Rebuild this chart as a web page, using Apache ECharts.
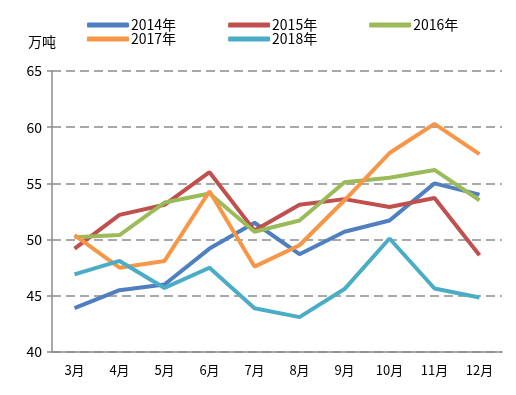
<!DOCTYPE html>
<html><head><meta charset="utf-8">
<script src="https://cdn.jsdelivr.net/npm/echarts@6/dist/echarts.min.js"></script>
<style>html,body{margin:0;padding:0;background:#fff}#c{width:516px;height:395px}</style>
</head><body><div id="c"></div>
<script>
const categories = ['3月','4月','5月','6月','7月','8月','9月','10月','11月','12月'];
const s2014 = [43.9, 45.5, 46.0, 49.2, 51.5, 48.7, 50.7, 51.7, 55.0, 54.0];
const s2015 = [49.2, 52.2, 53.1, 56.0, 50.8, 53.1, 53.6, 52.9, 53.7, 48.6];
const s2016 = [50.2, 50.4, 53.3, 54.1, 50.7, 51.7, 55.1, 55.5, 56.2, 53.5];
const s2017 = [50.4, 47.5, 48.1, 54.3, 47.6, 49.5, 53.5, 57.7, 60.3, 57.6];
const s2018 = [46.9, 48.1, 45.7, 47.5, 43.9, 43.1, 45.6, 50.1, 45.65, 44.85];
const seriesNames = ['2014年','2015年','2016年','2017年','2018年'];
const yTicks = [40, 45, 50, 55, 60, 65];
const colors = ['#4f7fc0','#c0504d','#9bbb59','#f79646','#4bacc6'];
const font = '"Noto Sans CJK SC", "Noto Sans", sans-serif';
const allData = [s2014, s2015, s2016, s2017, s2018];
const chart = echarts.init(document.getElementById('c'));
const legendCommon = {
  itemWidth: 42, itemHeight: 5, itemGap: 52,
  icon: 'roundRect',
  textStyle: {fontFamily: font, fontSize: 14, color: '#000', padding: [0,0,0,-3]},
  selectedMode: false
};
chart.setOption({
  animation: false,
  color: colors,
  grid: {left: 52, right: 14, top: 71, bottom: 43},
  legend: [
    Object.assign({left: 82, top: 13, data: seriesNames.slice(0,3)}, legendCommon),
    Object.assign({left: 82, top: 27, data: seriesNames.slice(3)}, legendCommon)
  ],
  graphic: [{type: 'text', left: 28, top: 35, style: {text: '万吨', font: '14px ' + font, fill: '#000'}}],
  xAxis: {
    type: 'category', data: categories, boundaryGap: true,
    axisLine: {lineStyle: {color: '#8c8c8c', width: 1.5}},
    axisTick: {show: false},
    axisLabel: {fontFamily: font, fontSize: 13, color: '#000', margin: 12}
  },
  yAxis: {
    type: 'value', min: yTicks[0], max: yTicks[yTicks.length-1], interval: 5,
    axisLine: {show: true, lineStyle: {color: '#8c8c8c', width: 1.5}},
    axisTick: {show: true, length: 5, lineStyle: {color: '#8c8c8c', width: 1.5}},
    axisLabel: {fontFamily: font, fontSize: 14, color: '#000', margin: 10},
    splitLine: {lineStyle: {color: '#8c8c8c', width: 1.5, type: [9, 5]}}
  },
  series: seriesNames.map((n, i) => ({
    name: n, type: 'line', data: allData[i], symbol: 'none',
    lineStyle: {width: 4, color: colors[i]}, itemStyle: {color: colors[i]}
  }))
});
</script></body></html>
